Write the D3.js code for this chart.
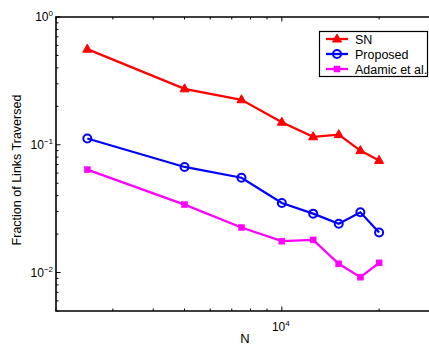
<!DOCTYPE html>
<html>
  <head>
    <meta charset="utf-8">
    <style>
      body { margin: 0; background: #fff; font-family: "Liberation Sans", Arial, sans-serif; }
      .tick-label { font-size: 12px; }
    </style>
  </head>
  <body>
    <script src="https://d3js.org/d3.v7.min.js"></script>
    <script>
      // data
      var sizes = [2500, 5000, 7500, 10000, 12500, 15000, 17500, 20000];
      var snValues = [0.56, 0.274, 0.225, 0.150, 0.1155, 0.120, 0.090, 0.0754];
      var proposedValues = [0.112, 0.067, 0.0552, 0.035, 0.0289, 0.0241, 0.0296, 0.0206];
      var adamicValues = [0.0638, 0.034, 0.0225, 0.0176, 0.018, 0.0117, 0.0092, 0.0119];
      var seriesNames = ["SN", "Proposed", "Adamic et al."];
      var seriesColors = ["#ff0000", "#0000ff", "#ff00ff"];
      var seriesMarkers = ["triangle", "circle", "square"];
      var xDecades = [1e4];
      var yDecades = [1e-2, 1e-1, 1e0];

      var width = 429, height = 345;
      var plot = {left: 56, right: 436, top: 17, bottom: 311};

      var svg = d3.select("body").append("svg")
          .attr("width", width)
          .attr("height", height);

      var x = d3.scaleLog().domain([2000, 30000]).range([plot.left, plot.right]);
      var y = d3.scaleLog().domain([0.005, 1]).range([plot.bottom, plot.top]);

      // minor tick values
      var xMinor = [], yMinor = [];
      [1000, 10000].forEach(function(b) {
        for (var k = 1; k < 10; k++) {
          var v = b * k;
          if (v >= 2000 && v <= 30000 && xDecades.indexOf(v) < 0) xMinor.push(v);
        }
      });
      [0.001, 0.01, 0.1].forEach(function(b) {
        for (var k = 1; k < 10; k++) {
          var v = b * k;
          if (v >= 0.005 - 1e-9 && v <= 1 && yDecades.indexOf(+v.toPrecision(3)) < 0) yMinor.push(v);
        }
      });

      var axes = svg.append("g").attr("stroke", "#000").attr("stroke-width", 1);

      // x ticks on bottom and top, pointing inward
      xMinor.forEach(function(v) {
        axes.append("line").attr("x1", x(v)).attr("x2", x(v)).attr("y1", plot.bottom).attr("y2", plot.bottom - 2.5);
        axes.append("line").attr("x1", x(v)).attr("x2", x(v)).attr("y1", plot.top).attr("y2", plot.top + 2.5);
      });
      xDecades.forEach(function(v) {
        axes.append("line").attr("x1", x(v)).attr("x2", x(v)).attr("y1", plot.bottom).attr("y2", plot.bottom - 4.5);
        axes.append("line").attr("x1", x(v)).attr("x2", x(v)).attr("y1", plot.top).attr("y2", plot.top + 4.5);
      });
      // y ticks on the left, pointing inward
      yMinor.forEach(function(v) {
        axes.append("line").attr("y1", y(v)).attr("y2", y(v)).attr("x1", plot.left).attr("x2", plot.left + 2.5);
      });
      yDecades.forEach(function(v) {
        axes.append("line").attr("y1", y(v)).attr("y2", y(v)).attr("x1", plot.left).attr("x2", plot.left + 4.5);
      });

      // box
      svg.append("path")
          .attr("d", "M" + plot.right + "," + plot.top + "H" + plot.left + "V" + plot.bottom + "H" + plot.right)
          .attr("fill", "none")
          .attr("stroke", "#000")
          .attr("stroke-width", 1.6);

      // tick labels
      xDecades.forEach(function(v) {
        var t = svg.append("text").attr("class", "tick-label")
            .attr("x", x(v) - 1).attr("y", 331).attr("text-anchor", "middle");
        t.append("tspan").text("10");
        t.append("tspan").attr("font-size", "8px").attr("dy", "-5").text(Math.round(Math.log10(v)));
      });
      yDecades.forEach(function(v) {
        var e = Math.round(Math.log10(v));
        var t = svg.append("text").attr("class", "tick-label")
            .attr("x", 53).attr("y", y(v) + 4).attr("text-anchor", "end");
        t.append("tspan").text("10");
        t.append("tspan").attr("font-size", "8px").attr("dy", "-5").text(e < 0 ? "\u2212" + (-e) : e);
      });

      // axis titles
      svg.append("text")
          .attr("x", (plot.left + plot.right) / 2 - 1).attr("y", 343)
          .attr("text-anchor", "middle").attr("font-size", "13px")
          .text("N");
      svg.append("text")
          .attr("transform", "translate(21," + ((plot.top + plot.bottom) / 2 + 6) + ") rotate(-90)")
          .attr("text-anchor", "middle").attr("font-size", "12.5px")
          .text("Fraction of Links Traversed");

      function marker(g, kind, cx, cy, color) {
        if (kind === "triangle") {
          g.append("path")
              .attr("d", "M" + cx + "," + (cy - 5) + "L" + (cx + 4.5) + "," + (cy + 3) + "L" + (cx - 4.5) + "," + (cy + 3) + "Z")
              .attr("fill", color).attr("stroke", color).attr("stroke-width", 1);
        } else if (kind === "circle") {
          g.append("circle").attr("cx", cx).attr("cy", cy).attr("r", 4)
              .attr("fill", "none").attr("stroke", color).attr("stroke-width", 2);
        } else {
          g.append("rect").attr("x", cx - 3).attr("y", cy - 3).attr("width", 6).attr("height", 6)
              .attr("fill", color).attr("stroke", color).attr("stroke-width", 0.5);
        }
      }

      var line = d3.line()
          .x(function(d) { return x(d[0]); })
          .y(function(d) { return y(d[1]); });

      [snValues, proposedValues, adamicValues].forEach(function(vals, i) {
        var pts = sizes.map(function(s, j) { return [s, vals[j]]; });
        var g = svg.append("g");
        g.append("path").attr("d", line(pts))
            .attr("fill", "none").attr("stroke", seriesColors[i]).attr("stroke-width", 2.3);
        pts.forEach(function(p) { marker(g, seriesMarkers[i], x(p[0]), y(p[1]), seriesColors[i]); });
      });

      // legend
      var legend = svg.append("g");
      legend.append("rect")
          .attr("x", 319.5).attr("y", 31.5).attr("width", 108).attr("height", 45)
          .attr("fill", "#fff").attr("stroke", "#000").attr("stroke-width", 1.2);
      seriesNames.forEach(function(name, i) {
        var ly = 39 + i * 15;
        legend.append("line").attr("x1", 326).attr("x2", 348).attr("y1", ly).attr("y2", ly)
            .attr("stroke", seriesColors[i]).attr("stroke-width", 2.3);
        marker(legend, seriesMarkers[i], 337, ly, seriesColors[i]);
        legend.append("text").attr("x", 355).attr("y", ly + 4.5).attr("font-size", "12.5px").text(name);
      });
    </script>
  </body>
</html>
